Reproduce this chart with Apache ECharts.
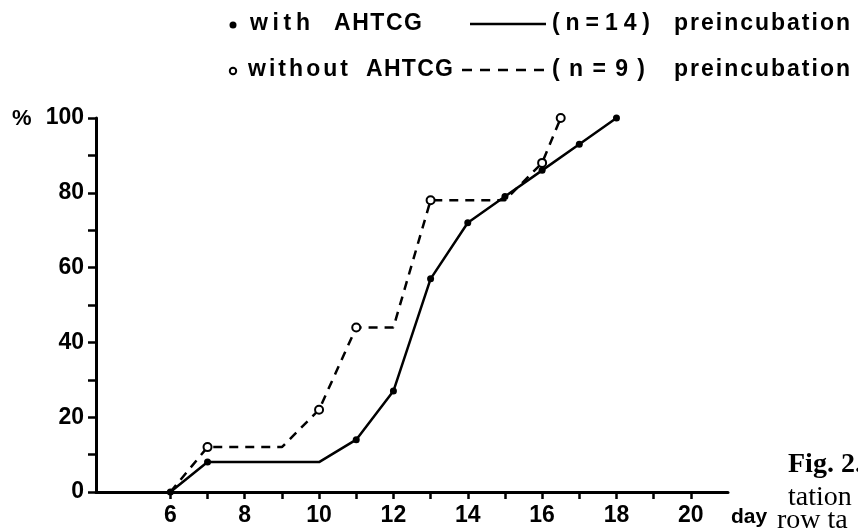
<!DOCTYPE html>
<html lang="en">
<head>
    <meta charset="UTF-8">
    <title>AHTCG preincubation</title>
    <script type="text/javascript" src="https://cdn.jsdelivr.net/npm/echarts@6/dist/echarts.min.js"></script>
    <style>
        body { margin: 0; background: #fff; }
        #container { width: 858px; height: 528px; }
    </style>
</head>
<body>
<div id="container"></div>
<script>
    // with AHTCG, n=14 (solid line, filled dots)
    var withDays = [6, 7, 10, 11, 12, 13, 14, 15, 16, 17, 18];
    var withPct = [0, 8, 8, 14, 27, 57, 72, 79, 86, 93, 100];
    var withDot = [1, 1, 0, 1, 1, 1, 1, 1, 1, 1, 1];

    // without AHTCG, n=9 (dashed line, open circles)
    var withoutDays = [6, 7, 9, 10, 11, 12, 13, 15, 16, 16.5];
    var withoutPct = [0, 12, 12, 22, 44, 44, 78, 78, 88, 100];
    var withoutDot = [0, 1, 0, 1, 1, 0, 1, 0, 1, 1];

    var xTicks = [6, 7, 8, 9, 10, 11, 12, 13, 14, 15, 16, 17, 18, 19, 20];
    var xLabels = [6, 8, 10, 12, 14, 16, 18, 20];
    var yTicks = [0, 10, 20, 30, 40, 50, 60, 70, 80, 90, 100];
    var yLabels = [0, 20, 40, 60, 80, 100];

    var SANS = '"Liberation Sans", Arial, sans-serif';
    var SERIF = '"Liberation Serif", "DejaVu Serif", serif';
    var measure = document.createElement('canvas').getContext('2d');

    function points(xs, ys, marks) {
        var out = [];
        for (var i = 0; i < xs.length; i++) {
            out.push({value: [xs[i], ys[i]], symbol: marks[i] ? undefined : 'none'});
        }
        return out;
    }

    // spread a word's letters between x0 and x1 (the print is letter-spaced)
    function spread(str, x0, x1, y, font) {
        measure.font = font;
        var w = [], total = 0;
        for (var i = 0; i < str.length; i++) {
            w.push(measure.measureText(str[i]).width);
            total += w[i];
        }
        var gap = str.length > 1 ? (x1 - x0 - total) / (str.length - 1) : 0;
        var items = [], x = x0;
        for (var j = 0; j < str.length; j++) {
            items.push({
                type: 'text', x: x, y: y,
                style: {text: str[j], font: font, fill: '#000', verticalAlign: 'middle'}
            });
            x += w[j] + gap;
        }
        return items;
    }

    function text(str, x, y, font) {
        return {type: 'text', x: x, y: y,
            style: {text: str, font: font, fill: '#000', verticalAlign: 'middle'}};
    }

    var legendFont = 'bold 23px ' + SANS;
    var captionFont = '28px ' + SERIF;
    var y1 = 24, y2 = 70;
    var graphics = [
        {type: 'circle', shape: {cx: 233, cy: y1 + 1, r: 3.5}, style: {fill: '#000'}},
        {type: 'circle', shape: {cx: 233, cy: y2 + 1, r: 3.2}, style: {fill: '#fff', stroke: '#000', lineWidth: 2}},
        {type: 'line', shape: {x1: 470, y1: y1, x2: 546, y2: y1}, style: {stroke: '#000', lineWidth: 2.5}},
        {type: 'line', shape: {x1: 462, y1: y2, x2: 544, y2: y2}, style: {stroke: '#000', lineWidth: 2.5, lineDash: [10, 8]}},
        text('%', 12, 119, 'bold 22px ' + SANS),
        text('day', 731, 517, 'bold 21px ' + SANS),
        text('Fig. 2.', 788, 465, 'bold ' + captionFont),
        text('tation', 788, 498, captionFont),
        text('row ta', 777, 521, captionFont)
    ];
    graphics = graphics
        .concat(spread('with', 250, 310, y1, legendFont))
        .concat(spread('AHTCG', 334, 422, y1, legendFont))
        .concat(spread('(n=14)', 552, 650, y1, legendFont))
        .concat(spread('preincubation', 674, 850, y1, legendFont))
        .concat(spread('without', 248, 348, y2, legendFont))
        .concat(spread('AHTCG', 366, 453, y2, legendFont))
        .concat(spread('(n=9)', 552, 645, y2, legendFont))
        .concat(spread('preincubation', 674, 850, y2, legendFont));

    var dom = document.getElementById('container');
    var myChart = echarts.init(dom);
    var option = {
        animation: false,
        backgroundColor: '#fff',
        grid: {left: 96, right: 130, top: 118, bottom: 36},
        xAxis: {
            type: 'value', min: 4, max: 21,
            axisLine: {lineStyle: {color: '#000', width: 3}},
            axisTick: {length: 7, customValues: xTicks, lineStyle: {color: '#000', width: 2.5}},
            axisLabel: {customValues: xLabels, margin: 12, color: '#000',
                fontFamily: SANS, fontWeight: 'bold', fontSize: 23},
            splitLine: {show: false}
        },
        yAxis: {
            type: 'value', min: 0, max: 100, interval: 10,
            axisLine: {show: true, lineStyle: {color: '#000', width: 3}},
            axisTick: {show: true, length: 8, customValues: yTicks, lineStyle: {color: '#000', width: 2.5}},
            axisLabel: {customValues: yLabels, margin: 12, color: '#000',
                fontFamily: SANS, fontWeight: 'bold', fontSize: 23},
            splitLine: {show: false}
        },
        series: [{
            type: 'line',
            data: points(withoutDays, withoutPct, withoutDot),
            symbol: 'emptyCircle',
            symbolSize: 8,
            lineStyle: {color: '#000', width: 2.5, type: [9, 7]},
            itemStyle: {color: '#000', borderWidth: 2}
        }, {
            type: 'line',
            data: points(withDays, withPct, withDot),
            symbol: 'circle',
            symbolSize: 7,
            lineStyle: {color: '#000', width: 2.5},
            itemStyle: {color: '#000'}
        }],
        graphic: graphics
    };
    myChart.setOption(option, true);
</script>
</body>
</html>
